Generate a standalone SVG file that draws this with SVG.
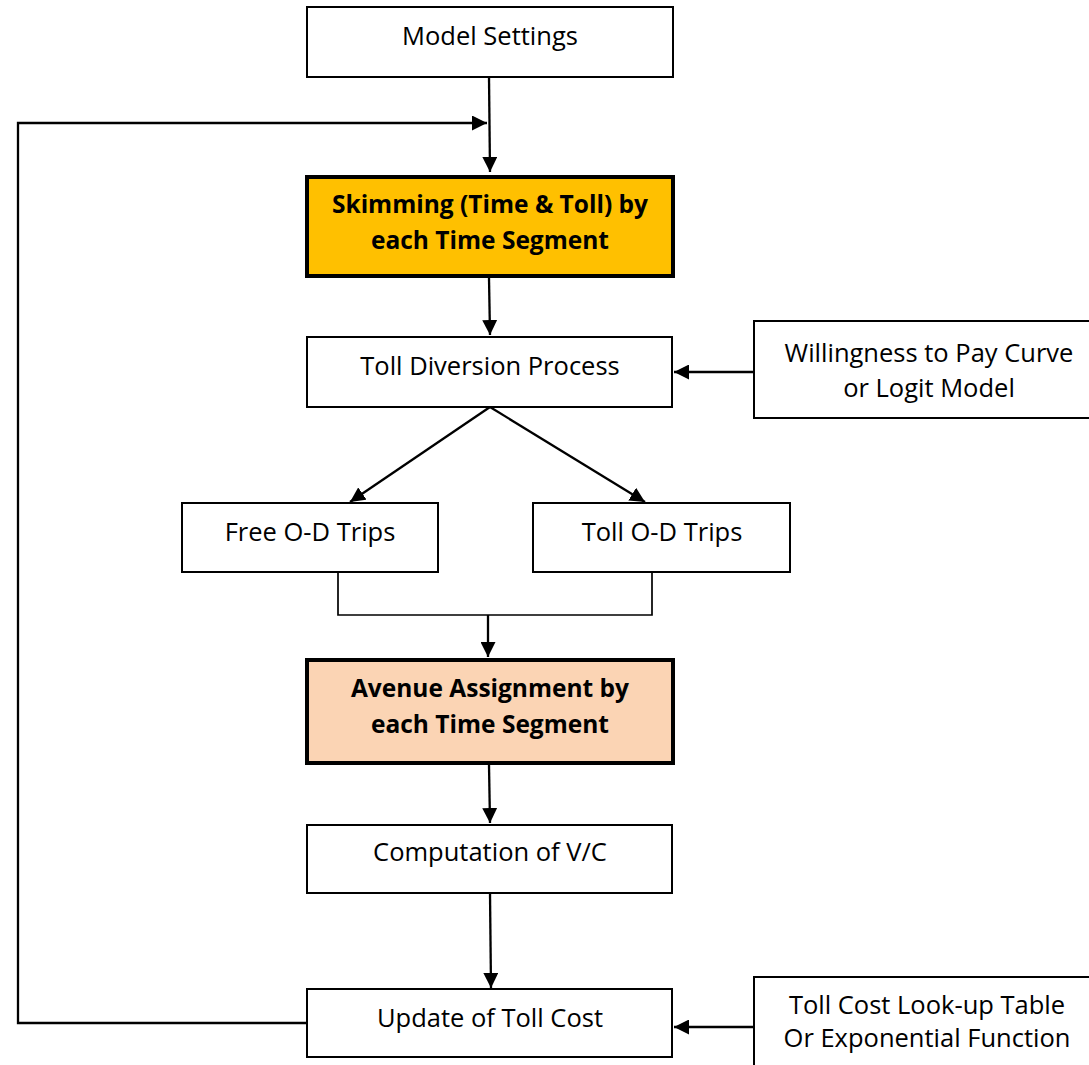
<svg xmlns="http://www.w3.org/2000/svg" width="1089" height="1065" viewBox="0 0 1089 1065">
  <style>
    .box { fill: #ffffff; stroke: #000000; stroke-width: 2; }
    .key { stroke: #000000; stroke-width: 4; }
    .txt { font-family: "Open Sans", "Noto Sans", "Liberation Sans", sans-serif; font-size: 25.5px; fill: #000000; text-anchor: middle; }
    .bold { font-weight: bold; font-size: 24.5px; }
    .wire { fill: none; stroke: #000000; stroke-width: 2.3; }
    .thin { fill: none; stroke: #000000; stroke-width: 1.7; }
  </style>
  <defs>
    <marker id="arrow" viewBox="0 0 10 10" refX="10" refY="5" markerWidth="15" markerHeight="15" markerUnits="userSpaceOnUse" orient="auto">
      <path d="M0,0 L10,5 L0,10 z" fill="#000000"/>
    </marker>
  </defs>

  <g id="connectors">
    <line class="wire" x1="489" y1="77" x2="490" y2="172" marker-end="url(#arrow)"/>
    <polyline class="wire" points="307,1023 18,1023 18,123 487,123" marker-end="url(#arrow)"/>
    <line class="wire" x1="489" y1="278" x2="490" y2="335" marker-end="url(#arrow)"/>
    <line class="wire" x1="754" y1="372" x2="674" y2="372" marker-end="url(#arrow)"/>
    <line class="wire" x1="490" y1="407" x2="350" y2="502" marker-end="url(#arrow)"/>
    <line class="wire" x1="490" y1="407" x2="645" y2="502" marker-end="url(#arrow)"/>
    <polyline class="thin" points="338,572 338,615 652,615 652,572"/>
    <line class="wire" x1="488" y1="615" x2="488" y2="657" marker-end="url(#arrow)"/>
    <line class="wire" x1="489" y1="765" x2="490" y2="823" marker-end="url(#arrow)"/>
    <line class="wire" x1="490" y1="893" x2="491" y2="988" marker-end="url(#arrow)"/>
    <line class="wire" x1="754" y1="1027" x2="674" y2="1027" marker-end="url(#arrow)"/>
  </g>

  <g id="model-settings">
    <rect class="box" x="307" y="7" width="366" height="70"/>
    <text class="txt" x="490" y="45">Model Settings</text>
  </g>

  <g id="skimming">
    <rect class="key" x="307" y="177" width="366" height="99" fill="#FFC000"/>
    <text class="txt bold" x="490" y="213">Skimming (Time &amp; Toll) by</text>
    <text class="txt bold" x="490" y="249">each Time Segment</text>
  </g>

  <g id="toll-diversion">
    <rect class="box" x="307" y="337" width="365" height="70"/>
    <text class="txt" x="490" y="375">Toll Diversion Process</text>
  </g>

  <g id="willingness">
    <rect class="box" x="754" y="321" width="350" height="97"/>
    <text class="txt" x="929" y="362">Willingness to Pay Curve</text>
    <text class="txt" x="929" y="397">or Logit Model</text>
  </g>

  <g id="free-trips">
    <rect class="box" x="182" y="503" width="256" height="69"/>
    <text class="txt" x="310" y="541">Free O-D Trips</text>
  </g>

  <g id="toll-trips">
    <rect class="box" x="533" y="503" width="257" height="69"/>
    <text class="txt" x="662" y="541">Toll O-D Trips</text>
  </g>

  <g id="avenue-assignment">
    <rect class="key" x="307" y="660" width="366" height="103" fill="#FBD4B4"/>
    <text class="txt bold" x="490" y="697">Avenue Assignment by</text>
    <text class="txt bold" x="490" y="733">each Time Segment</text>
  </g>

  <g id="computation">
    <rect class="box" x="307" y="825" width="365" height="68"/>
    <text class="txt" x="490" y="861">Computation of V/C</text>
  </g>

  <g id="update-toll">
    <rect class="box" x="307" y="989" width="365" height="68"/>
    <text class="txt" x="490" y="1027">Update of Toll Cost</text>
  </g>

  <g id="toll-lookup">
    <rect class="box" x="754" y="977" width="350" height="100"/>
    <text class="txt" x="927" y="1014">Toll Cost Look-up Table</text>
    <text class="txt" x="927" y="1047">Or Exponential Function</text>
  </g>
</svg>
